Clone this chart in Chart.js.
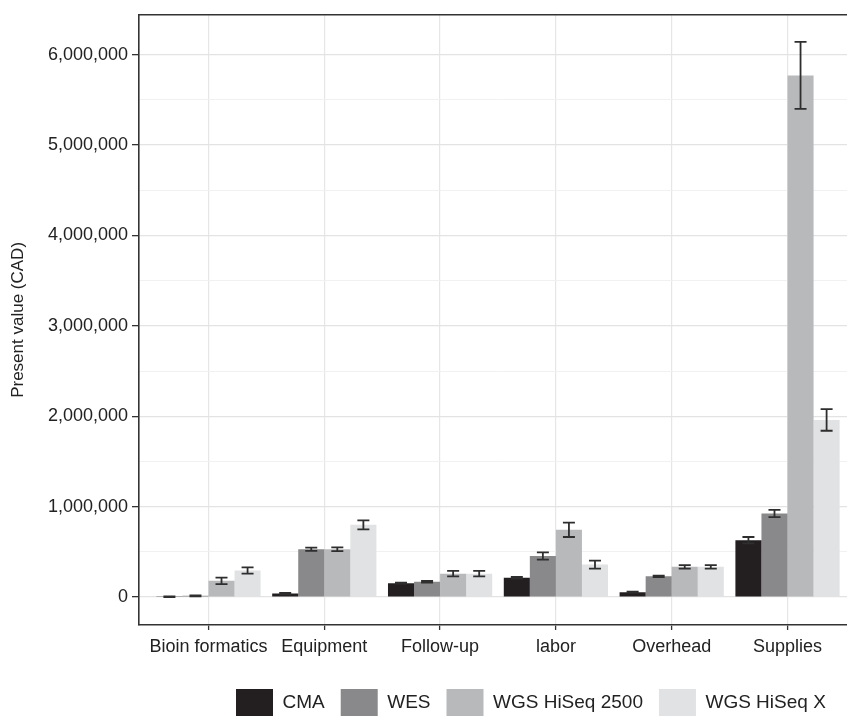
<!DOCTYPE html>
<html>
<head>
<meta charset="utf-8">
<script src="https://cdn.jsdelivr.net/npm/chart.js@4"></script>
<style>
    html, body { margin: 0; padding: 0; background: #fff; overflow: hidden; }
    #wrap { width: 880px; height: 716px; position: relative; }
</style>
</head>
<body>
<div id="wrap"><canvas id="chart"></canvas></div>
<script>
    const categories = ['Bioin formatics', 'Equipment', 'Follow-up', 'labor', 'Overhead', 'Supplies'];
    const seriesNames = ['CMA', 'WES', 'WGS HiSeq 2500', 'WGS HiSeq X'];

    // present value (CAD)
    const cma = [4000, 40000, 155000, 215000, 55000, 630000];
    const wes = [15000, 530000, 170000, 455000, 230000, 925000];
    const hiseq2500 = [180000, 530000, 260000, 745000, 335000, 5770000];
    const hiseqX = [295000, 800000, 260000, 360000, 335000, 1960000];

    // half-width of the error bars
    const cmaErr = [3000, 8000, 5000, 10000, 5000, 35000];
    const wesErr = [5000, 18000, 10000, 40000, 8000, 40000];
    const hiseq2500Err = [35000, 20000, 30000, 80000, 20000, 370000];
    const hiseqXErr = [35000, 50000, 30000, 45000, 20000, 120000];

    const yTicks = [0, 500000, 1000000, 1500000, 2000000, 2500000, 3000000, 3500000, 4000000, 4500000, 5000000, 5500000, 6000000];

    const colors = ['#231f20', '#89898b', '#b8b9bb', '#e1e2e3'];
    const values = [cma, wes, hiseq2500, hiseqX];
    const errors = [cmaErr, wesErr, hiseq2500Err, hiseqXErr];

    const datasets = seriesNames.map((name, k) => ({
        label: name,
        data: values[k].map((v, i) => ({x: i + 1, y: v})),
        err: errors[k],
        backgroundColor: colors[k],
        borderColor: colors[k],
        borderWidth: 0,
        categoryPercentage: 0.9,
        barPercentage: 1.0
    }));

    const errorBars = {
        id: 'errorBars',
        afterDatasetsDraw(chart) {
            const {ctx} = chart;
            const y = chart.scales.y;
            ctx.save();
            ctx.strokeStyle = '#2e2e2e';
            ctx.lineWidth = 1.8;
            chart.data.datasets.forEach((ds, di) => {
                const meta = chart.getDatasetMeta(di);
                meta.data.forEach((bar, i) => {
                    const v = ds.data[i].y, e = ds.err[i];
                    const top = y.getPixelForValue(v + e);
                    const bot = y.getPixelForValue(v - e);
                    const x = bar.x, hw = 6;
                    ctx.beginPath();
                    ctx.moveTo(x, top); ctx.lineTo(x, bot);
                    ctx.moveTo(x - hw, top); ctx.lineTo(x + hw, top);
                    ctx.moveTo(x - hw, bot); ctx.lineTo(x + hw, bot);
                    ctx.stroke();
                });
            });
            ctx.restore();
        }
    };

    // ggplot puts the legend a bit right of centre and lower than Chart.js would
    const legendPlace = {
        id: 'legendPlace',
        afterLayout(chart) {
            const L = chart.legend;
            const dx = 220 - L.left;
            L.left += dx; L.right += dx;
            L.top += 10; L.bottom += 10;
        }
    };

    const axisColor = '#333';
    const txt = '#222';

    new Chart(document.getElementById('chart'), {
        type: 'bar',
        data: {datasets},
        options: {
            responsive: true,
            maintainAspectRatio: false,
            animation: false,
            layout: {padding: {top: 10, right: 23, left: 0, bottom: 0}},
            plugins: {
                tooltip: {enabled: false},
                legend: {
                    position: 'bottom',
                    align: 'start',
                    labels: {
                        boxWidth: 37,
                        boxHeight: 27,
                        padding: 16,
                        color: txt,
                        font: {family: 'Liberation Sans', size: 19}
                    }
                }
            },
            scales: {
                x: {
                    type: 'linear',
                    position: 'bottom',
                    min: 0.4,
                    max: 6.6,
                    offset: false,
                    afterBuildTicks: s => { s.ticks = categories.map((c, i) => ({value: i + 1})); },
                    afterFit: s => { s.height = 38; },
                    grid: {offset: false, color: '#e6e6e6', lineWidth: 1.2, tickLength: 5, tickColor: axisColor, tickWidth: 1.3},
                    border: {color: axisColor, width: 1.6},
                    ticks: {
                        autoSkip: false,
                        maxRotation: 0,
                        padding: 6,
                        color: txt,
                        font: {family: 'Liberation Sans', size: 18},
                        callback: v => categories[v - 1] || ''
                    }
                },
                x2: {
                    type: 'linear',
                    position: 'top',
                    display: true,
                    min: 0.4,
                    max: 6.6,
                    afterFit: s => { s.height = 0; },
                    grid: {display: false},
                    ticks: {display: false},
                    border: {color: axisColor, width: 1.6}
                },
                y: {
                    min: -308000,
                    max: 6440000,
                    afterBuildTicks: s => { s.ticks = yTicks.map(v => ({value: v})); },
                    afterFit: s => { s.width = 139; },
                    grid: {
                        color: c => c.tick && c.tick.value % 1000000 === 0 ? '#e3e3e3' : '#efefef',
                        lineWidth: c => c.tick && c.tick.value % 1000000 === 0 ? 1.3 : 0.9,
                        tickLength: 7,
                        tickColor: c => c.tick && c.tick.value % 1000000 === 0 ? axisColor : 'rgba(0,0,0,0)',
                        tickWidth: 1.3
                    },
                    border: {color: axisColor, width: 1.6},
                    ticks: {
                        padding: 4,
                        color: txt,
                        font: {family: 'Liberation Sans', size: 18},
                        callback: v => v % 1000000 === 0 ? v.toLocaleString('en-US') : ''
                    },
                    title: {
                        display: true,
                        text: 'Present value (CAD)',
                        color: txt,
                        padding: {top: 8, bottom: 0},
                        font: {family: 'Liberation Sans', size: 17}
                    }
                }
            }
        },
        plugins: [errorBars, legendPlace]
    });
</script>
</body>
</html>
